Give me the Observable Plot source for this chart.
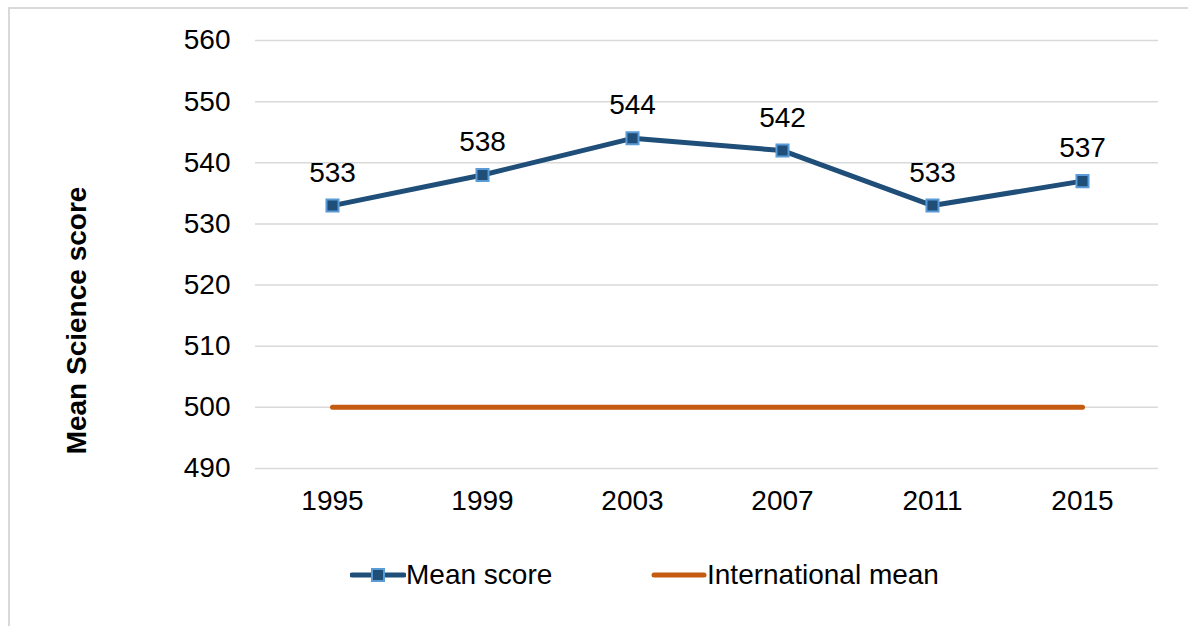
<!DOCTYPE html>
<html>
<head>
<meta charset="utf-8">
<script src="https://cdn.jsdelivr.net/npm/d3@7"></script>
<script src="https://cdn.jsdelivr.net/npm/@observablehq/plot@0.6"></script>
<style>
  body { margin: 0; background: #fff; font-family: "Liberation Sans", Arial, sans-serif; }
  #wrap { position: relative; width: 1188px; height: 626px; overflow: hidden; }
  #frame { position: absolute; left: 8px; top: 7px; width: 1200px; height: 700px; border-left: 2px solid #d9d9d9; border-top: 2px solid #d9d9d9; box-sizing: border-box; }
  #chart { position: absolute; left: 0; top: 0; }
  .leg { position: absolute; top: 558px; display: flex; align-items: center; font-size: 28px; color: #000; height: 34px; }
</style>
</head>
<body>
<div id="wrap">
  <div id="frame"></div>
  <div id="chart"></div>
  <div class="leg" style="left:350px;">
    <svg width="56" height="20"><line x1="2" y1="10" x2="54" y2="10" stroke="#1f4e79" stroke-width="5" stroke-linecap="round"/><rect x="22" y="4" width="12" height="12" fill="#1f4e79" stroke="#5b9bd5" stroke-width="2"/></svg><span>Mean score</span>
  </div>
  <div class="leg" style="left:651px;">
    <svg width="56" height="20"><line x1="3" y1="10" x2="53" y2="10" stroke="#c55a11" stroke-width="5" stroke-linecap="round"/></svg><span>International mean</span>
  </div>
</div>
<script>
const years = ["1995", "1999", "2003", "2007", "2011", "2015"];
const meanScore = [533, 538, 544, 542, 533, 537];
const internationalMean = [500, 500, 500, 500, 500, 500];
const yTicks = [490, 500, 510, 520, 530, 540, 550, 560];

const mean = years.map((y, i) => ({year: y, value: meanScore[i]}));
const intl = years.map((y, i) => ({year: y, value: internationalMean[i]}));

const chart = Plot.plot({
  width: 1188,
  height: 540,
  marginLeft: 255,
  marginRight: 30,
  marginTop: 40,
  marginBottom: 72,
  style: {fontFamily: "Liberation Sans, Arial, sans-serif", fontSize: "28px", color: "#000", background: "transparent"},
  x: {type: "point", domain: years, padding: 0.5, label: null},
  y: {domain: [490, 560], ticks: yTicks, label: null},
  marks: [
    Plot.ruleY(yTicks, {stroke: "#d9d9d9", strokeWidth: 1.5}),
    Plot.axisY({ticks: yTicks, tickSize: 0, tickPadding: 25, fontSize: 28, label: null}),
    Plot.axisX({tickSize: 0, tickPadding: 22, fontSize: 28, label: null}),
    Plot.line(intl, {x: "year", y: "value", stroke: "#c55a11", strokeWidth: 5}),
    Plot.line(mean, {x: "year", y: "value", stroke: "#1f4e79", strokeWidth: 5}),
    Plot.dot(mean, {x: "year", y: "value", symbol: "square", r: 6.8, fill: "#1f4e79", stroke: "#5b9bd5", strokeWidth: 2}),
    Plot.text(mean, {x: "year", y: "value", text: d => String(d.value), dy: -33, fontSize: 28, fill: "#000"}),
    Plot.text(["Mean Science score"], {frameAnchor: "left", textAnchor: "middle", text: d => d, rotate: -90, dx: -178, dy: 66, fontSize: 28, fontWeight: "bold", fill: "#000"})
  ]
});
document.getElementById("chart").appendChild(chart);
</script>
</body>
</html>
